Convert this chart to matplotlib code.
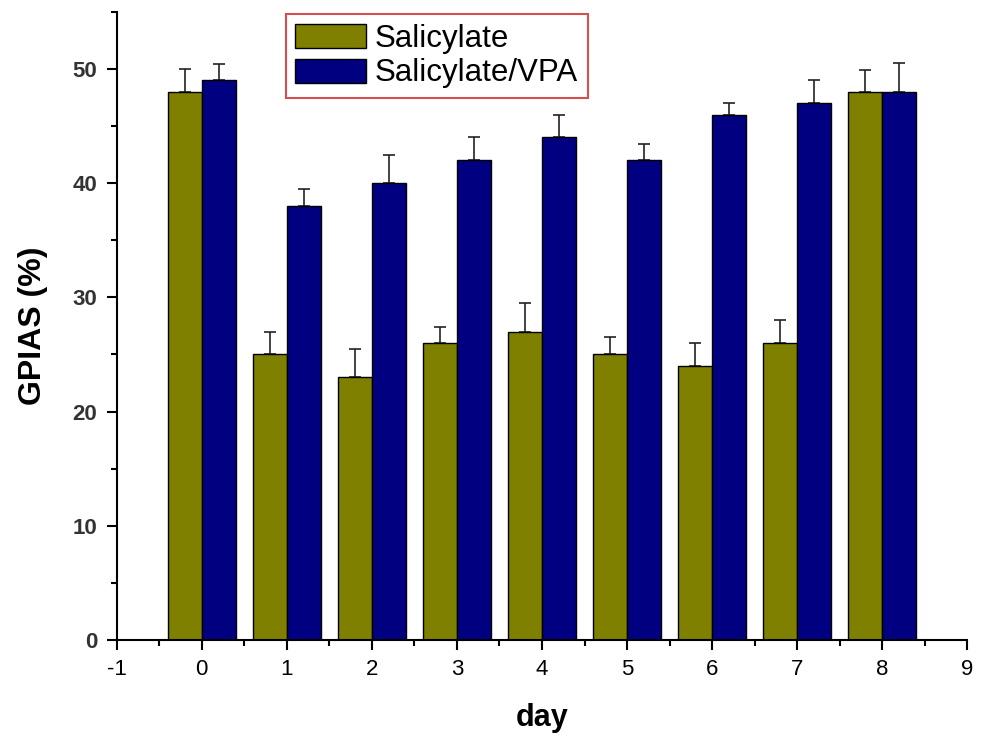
import numpy as np
import matplotlib.pyplot as plt
from matplotlib.ticker import MultipleLocator

plt.rcParams['font.family'] = ['Liberation Sans', 'DejaVu Sans']
plt.rcParams['axes.unicode_minus'] = False

days = [0, 1, 2, 3, 4, 5, 6, 7, 8]
salicylate = [48, 25, 23, 26, 27, 25, 24, 26, 48]
salicylate_err = [2.0, 2.0, 2.5, 1.4, 2.5, 1.5, 2.0, 2.0, 1.9]
vpa = [49, 38, 40, 42, 44, 42, 46, 47, 48]
vpa_err = [1.4, 1.5, 2.5, 2.0, 2.0, 1.4, 1.0, 2.0, 2.5]

x = np.array(days)
w = 0.4

fig = plt.figure(figsize=(9.81, 7.42), dpi=100)
ax = fig.add_axes([0.119, 0.1375, 0.867, 0.8465])

ax.bar(x - w / 2, salicylate, w, color='#808000', edgecolor='black', linewidth=1.0,
       label='Salicylate', zorder=2)
ax.bar(x + w / 2, vpa, w, color='#000080', edgecolor='black', linewidth=1.0,
       label='Salicylate/VPA', zorder=2)
ax.errorbar(x - w / 2, salicylate, yerr=[np.zeros(len(days)), salicylate_err], fmt='none',
            ecolor='#222222', elinewidth=1.2, capsize=4, capthick=1.2, zorder=1)
ax.errorbar(x + w / 2, vpa, yerr=[np.zeros(len(days)), vpa_err], fmt='none',
            ecolor='#222222', elinewidth=1.2, capsize=4, capthick=1.2, zorder=1)

ax.set_xlim(-1, 9)
ax.set_ylim(0, 55)
ax.xaxis.set_major_locator(MultipleLocator(1))
ax.xaxis.set_minor_locator(MultipleLocator(0.5))
ax.yaxis.set_major_locator(MultipleLocator(10))
ax.yaxis.set_minor_locator(MultipleLocator(5))
ax.tick_params(which='major', direction='out', length=7, width=1.5, labelsize=16, pad=7)
ax.tick_params(which='minor', direction='out', length=4, width=1.5)
for lab in ax.get_yticklabels():
    lab.set_fontweight('bold')
    lab.set_color('#333333')

for s in ['top', 'right']:
    ax.spines[s].set_visible(False)
for s in ['left', 'bottom']:
    ax.spines[s].set_linewidth(1.5)

ax.set_xlabel('day', fontsize=22, fontweight='bold', labelpad=16)
ax.set_ylabel('GPIAS (%)', fontsize=23, fontweight='bold', labelpad=18)

leg = ax.legend(loc='upper left', bbox_to_anchor=(0.199, 0.996), fontsize=22.5, frameon=True,
                fancybox=False, handlelength=2.25, handleheight=0.8, borderpad=0.3,
                labelspacing=0.15, handletextpad=0.3, borderaxespad=0.0)
leg.get_frame().set_edgecolor('#cc2222')
leg.get_frame().set_linewidth(1.5)

fig.savefig('out.png', dpi=100)
